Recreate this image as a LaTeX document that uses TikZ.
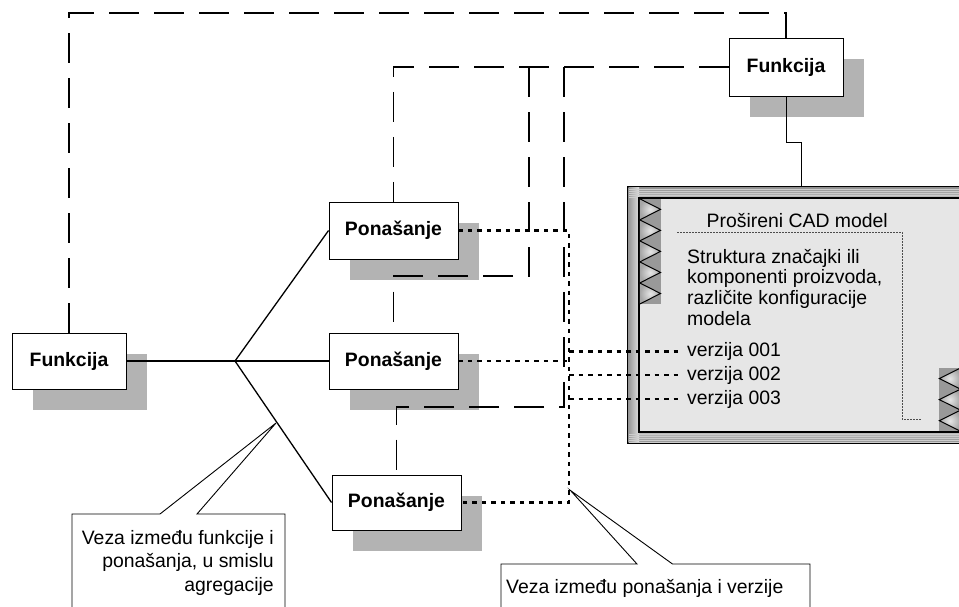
\documentclass[tikz,border=0pt]{standalone}
\usepackage{fontspec}
\setmainfont{Liberation Sans}
\usetikzlibrary{shadows}
\definecolor{shadowgray}{HTML}{B3B3B3}
\definecolor{cadfill}{HTML}{E6E6E6}
\definecolor{framegray}{HTML}{9A9A9A}
\definecolor{stripgray}{HTML}{999999}
\begin{document}
\begin{tikzpicture}[x=1pt,y=-1pt,
  box/.style={draw=black, line width=0.9pt, fill=white, inner sep=0pt,
    font=\fontsize{19.4}{23}\selectfont\bfseries,
    drop shadow={shadow xshift=21pt, shadow yshift=-21pt, fill=shadowgray, opacity=1}},
  plaintext/.style={inner sep=0pt, font=\fontsize{19.4}{23}\selectfont},
  vertext/.style={inner ysep=0pt, inner xsep=4pt, font=\fontsize{19.4}{23}\selectfont},
  dashline/.style={line width=1.6pt, dash pattern=on 30pt off 15pt},
  dotline/.style={line width=2.6pt, dash pattern=on 4.5pt off 5pt},
  aggline/.style={line width=1.3pt},
  calloutline/.style={line width=0.9pt, fill=white},
  tri/.style={line width=1pt}]
\useasboundingbox (0,0) rectangle (959,606);
\clip (0,0) rectangle (959,606);

% ---------- CAD model frame ----------
\node[draw=black, line width=1.2pt, fill=framegray, minimum width=347pt, minimum height=256pt, inner sep=0pt] (cad) at (801.5,315) {};
\shade[top color=gray!85, bottom color=gray!50] (628.6,187.6) rectangle (975,198);
\shade[top color=gray!50, bottom color=gray!85] (628.6,432) rectangle (975,442.4);
\shade[left color=gray!80, right color=gray!25] (628.6,187.6) rectangle (639,442.4);
\foreach \yy in {189,191,...,197} {\draw[gray!40, line width=0.4pt] (629,\yy) -- (975,\yy);}
\foreach \yy in {434,436,...,442} {\draw[gray!40, line width=0.4pt] (629,\yy) -- (975,\yy);}
\draw[black, line width=1.2pt] (cad.north west) rectangle (cad.south east);
\draw[black, line width=1.5pt, fill=cadfill] (639,198) rectangle (975,432);

% left triangle strip
\fill[stripgray] (639.8,198.8) rectangle (661,304);
\foreach \i in {0,...,4}{
  \pgfmathsetmacro\ya{198.8+21.04*\i}
  \pgfmathsetmacro\yb{\ya+10.52}
  \pgfmathsetmacro\yc{\ya+21.04}
  \shade[inner color=gray!20, outer color=gray!70] (639.8,\ya) -- (660.5,\yb) -- (639.8,\yc) -- cycle;
  \draw[tri] (639.8,\ya) -- (660.5,\yb) -- (639.8,\yc);
}
% right triangle strip
\fill[stripgray] (939,368) rectangle (975,431.2);
\foreach \i in {0,...,2}{
  \pgfmathsetmacro\ya{368+21.07*\i}
  \pgfmathsetmacro\yb{\ya+10.53}
  \pgfmathsetmacro\yc{\ya+21.07}
  \shade[inner color=gray!20, outer color=gray!70] (960.5,\ya) -- (939.3,\yb) -- (960.5,\yc) -- cycle;
  \draw[tri] (960.5,\ya) -- (939.3,\yb) -- (960.5,\yc);
}
% inner dotted outline
\draw[gray!60!black, line width=0.8pt, dash pattern=on 1.6pt off 1.4pt] (677,232) -- (902,232) -- (902,419) -- (921,419);

% CAD texts
\node[plaintext, anchor=base west] (cadtitle) at (706.5,227) {Prošireni CAD model};
\node[plaintext, anchor=base west] (s1) at (687,263) {Struktura značajki ili};
\node[plaintext, anchor=base west] (s2) at (687,283.5) {komponenti proizvoda,};
\node[plaintext, anchor=base west] (s3) at (687,304) {različite konfiguracije};
\node[plaintext, anchor=base west] (s4) at (687,325) {modela};
\node[vertext, anchor=base west] (v1) at (683,356.5) {verzija 001};
\node[vertext, anchor=base west] (v2) at (683,380) {verzija 002};
\node[vertext, anchor=base west] (v3) at (683,404) {verzija 003};

% ---------- boxes ----------
\node[box, minimum width=114pt, minimum height=58pt] (F1) at (786,67) {Funkcija};
\node[box, minimum width=114pt, minimum height=56pt] (F0) at (69,361) {Funkcija};
\node[box, minimum width=129pt, minimum height=57pt] (P1) at (393.5,230.5) {Ponašanje};
\node[box, minimum width=129pt, minimum height=56pt] (P2) at (393.5,361) {Ponašanje};
\node[box, minimum width=129pt, minimum height=55pt] (P3) at (396.5,502.5) {Ponašanje};

% ---------- solid link Funkcija -> CAD ----------
\draw[line width=0.9pt] (F1.south) -- ++(0,46) -| (cad.north);

% ---------- dashed links ----------
\coordinate (c1) at (69,13);
\coordinate (c2) at (786,13);
\draw[dashline] (F0.north) -- (c1) -- (c2) -- (F1.north);
\draw[dashline] (F1.west) -| (P1.north);
\coordinate (d1) at (529,67);
\coordinate (d2) at (529,276);
\draw[dashline] (d1) -- (d2) -| (P2.north);
\coordinate (e1) at (564,67);
\coordinate (e2) at (564,407);
\draw[dashline] (e1) -- (e2) -| (P3.north);

% ---------- dotted links ----------
\coordinate (g1) at (569,230.5);
\coordinate (g2) at (569,502.5);
\coordinate (g3) at (569,361);
\draw[dotline] (P1.east) -- (g1) -- (g2) -- (P3.east);
\draw[dotline] (P2.east) -- (g3);
\draw[dotline] (v1.west -| g1) -- (v1.west);
\draw[dotline] (v2.west -| g1) -- (v2.west);
\draw[dotline] (v3.west -| g1) -- (v3.west);

% ---------- aggregation ----------
\coordinate (J) at (235,361);
\draw[aggline] (F0.east) -- (J);
\draw[aggline] (J) -- (P1.west);
\draw[aggline] (J) -- (P2.west);
\draw[aggline] (J) -- (P3.west);

% ---------- callouts ----------
\coordinate (ap1) at (276,423);
\draw[calloutline] (72,607) -- (72,514) -- (160,514) -- (ap1) -- (197,514) -- (285,514) -- (285,607);
\node[plaintext, anchor=base east] (t1a) at (274,544) {Veza između funkcije i};
\node[plaintext, anchor=base east] (t1b) at (274,567.5) {ponašanja, u smislu};
\node[plaintext, anchor=base east] (t1c) at (274,591) {agregacije};

\coordinate (ap2) at (570.5,490.5);
\draw[calloutline] (501,607) -- (501,564) -- (637,564) -- (ap2) -- (672.5,564) -- (810,564) -- (810,607);
\node[plaintext, anchor=base west] (t2) at (506,593) {Veza između ponašanja i verzije};
\end{tikzpicture}
\end{document}
